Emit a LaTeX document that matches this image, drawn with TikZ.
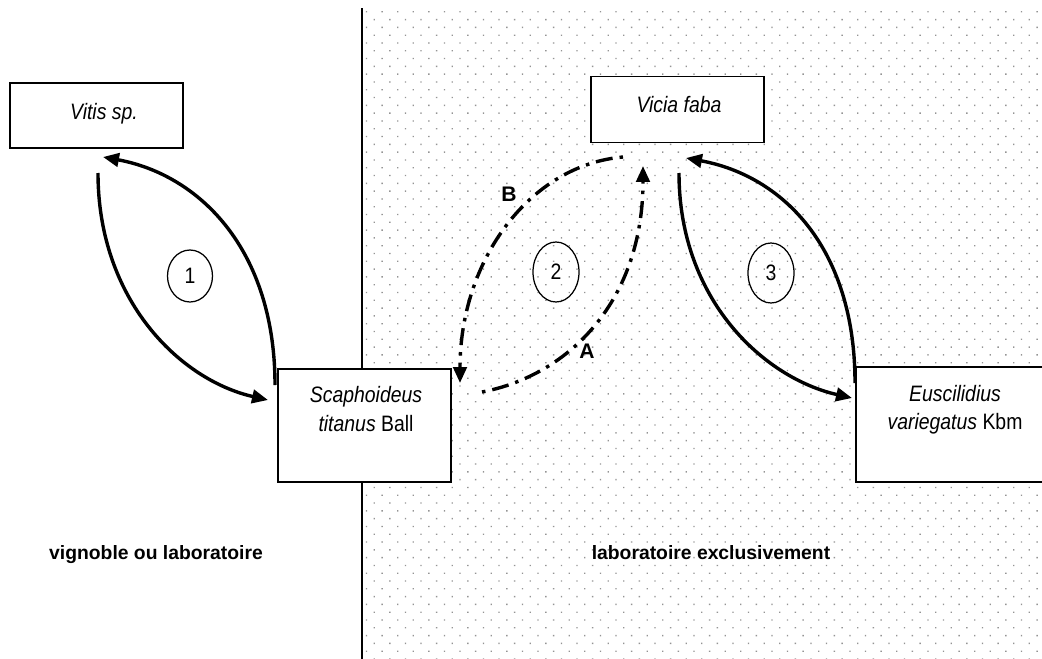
\documentclass[tikz,border=0pt]{standalone}
\usepackage{fontspec}
\setmainfont{Liberation Sans}
\newfontfamily\boxfont[FakeStretch=0.87]{Liberation Sans}
\usetikzlibrary{shapes.geometric}
\usetikzlibrary{patterns.meta}
\usetikzlibrary{arrows.meta}

\begin{document}
\begin{tikzpicture}[x=0.02cm, y=-0.02cm,
	box/.style={draw, line width=0.035cm, fill=white, minimum width=3.46cm, inner sep=0pt},
	txt/.style={font=\boxfont\fontsize{12.7}{16}\selectfont, align=center, inner sep=0pt},
	num/.style={draw, ellipse, line width=0.025cm, inner sep=0pt, font=\boxfont\fontsize{12.7}{14}\selectfont},
	tag/.style={font=\bfseries\fontsize{12}{14}\selectfont, inner sep=0pt},
	zone/.style={font=\bfseries\fontsize{11}{13}\selectfont, inner sep=0pt},
	link/.style={line width=0.068cm, -{Triangle[length=0.32cm, width=0.27cm]}},
	altlink/.style={link, dash pattern=on 0.07cm off 0.14cm on 0.34cm off 0.14cm}]
	\useasboundingbox (0,0) rectangle (1042,659);
	% laboratory zone
	\fill[pattern={Dots[distance=0.2206cm, angle=45, radius=0.019cm]}, pattern color=black!42]
	(363,8) rectangle (1042,659);
	\draw[line width=0.04cm] (362,8) -- (362,659);
	% plants and insects
	\node[box, minimum height=1.30cm] (vitis) at (96.5,115.5) {};
	\node[txt, anchor=base] (vitistxt) at (104,119) {\textit{Vitis sp.}};
	\node[box, minimum height=2.26cm] (scaph) at (364.5,425.5) {};
	\node[txt] (scaphtxt) at (366,409) {\textit{Scaphoideus}\\\textit{titanus} Ball};
	\node[box, minimum height=1.32cm] (vicia) at (677.5,109.5) {};
	\node[txt, anchor=base] (viciatxt) at (679,112) {\textit{Vicia faba}};
	\node[box, minimum width=3.96cm, minimum height=2.30cm] (eusc) at (955,424.5) {};
	\node[txt] (eusctxt) at (955,410) {\textit{Euscilidius}\\\textit{variegatus} Kbm};
	% cycles
	\node[num, minimum width=0.9cm, minimum height=1.04cm] (n1) at (190,276) {1};
	\node[num, minimum width=0.92cm, minimum height=1.2cm] (n2) at (556,272) {2};
	\node[num, minimum width=0.92cm, minimum height=1.2cm] (n3) at (771,273) {3};
	% arrow ends
	\coordinate (vitis-dn) at (98,173);
	\coordinate (scaph-w) at (268,400);
	\coordinate (scaph-nw) at (275,385);
	\coordinate (vitis-se) at (103,157);
	\coordinate (vicia-sw) at (623,157);
	\coordinate (scaph-ne) at (460,383);
	\coordinate (scaph-e) at (482,392);
	\coordinate (vicia-s) at (643,166);
	\coordinate (vicia-dn) at (679,173);
	\coordinate (eusc-w) at (852,398);
	\coordinate (eusc-nw) at (855,383);
	\coordinate (vicia-se) at (686,158);
	% 1
	\draw[link] (vitis-dn) .. controls +(0,127) and +(-88,-20) .. (scaph-w);
	\draw[link] (scaph-nw) .. controls +(0,-135) and +(97,18) .. (vitis-se);
	% 2
	\draw[altlink] (vicia-sw) .. controls +(-93,8) and +(0,-123) .. (scaph-ne);
	\draw[altlink] (scaph-e) .. controls +(88,-17) and +(0,134) .. (vicia-s);
	\node[tag, anchor=base] (labA) at (587,358) {A};
	\node[tag, anchor=base] (labB) at (509,201) {B};
	% 3
	\draw[link] (vicia-dn) .. controls +(0,127) and +(-88,-20) .. (eusc-w);
	\draw[link] (eusc-nw) .. controls +(0,-135) and +(97,18) .. (vicia-se);
	% zones
	\node[zone, anchor=base] (vign) at (156,559) {vignoble ou laboratoire};
	\node[zone, anchor=base] (labo) at (711,559) {laboratoire exclusivement};
\end{tikzpicture}
\end{document}
